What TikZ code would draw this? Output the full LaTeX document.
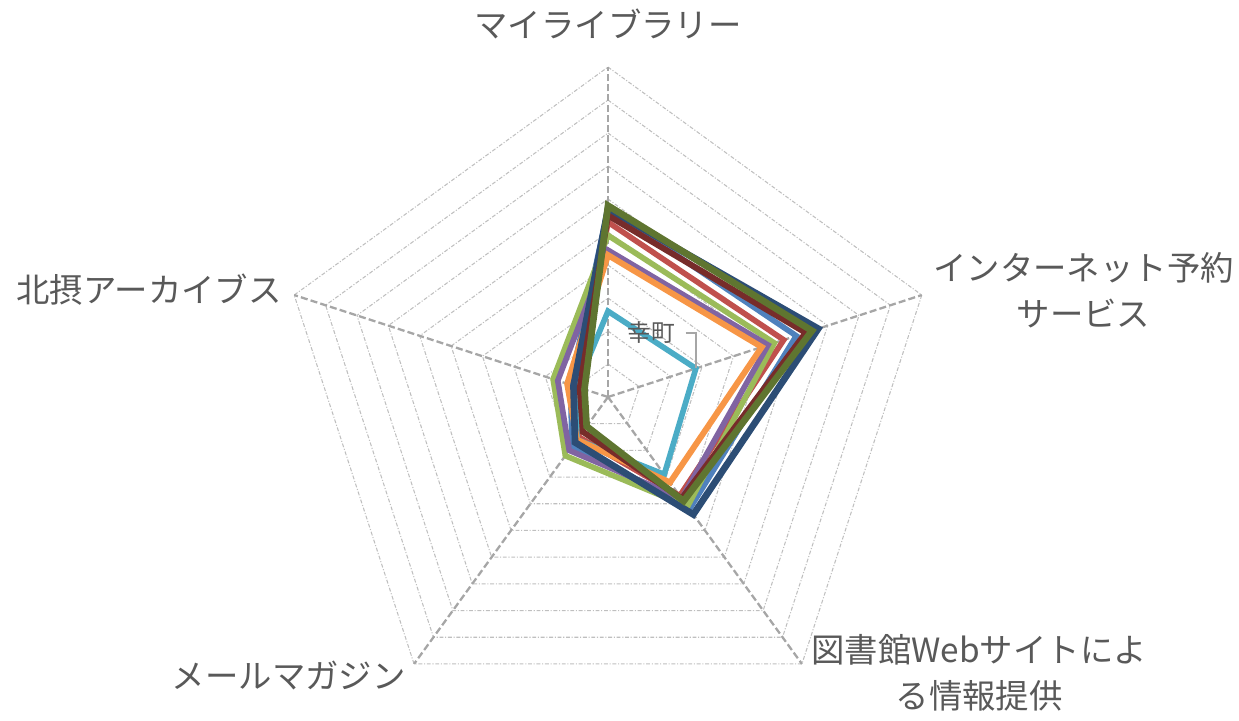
\documentclass[tikz,border=0pt]{standalone}
\usepackage{fontspec}
\setmainfont{Noto Sans CJK JP}
\usetikzlibrary{positioning}

\definecolor{txtgray}{HTML}{595959}
\definecolor{gridgray}{HTML}{BFBFBF}
\definecolor{axisgray}{HTML}{A6A6A6}
\definecolor{sblue}{HTML}{4F81BD}
\definecolor{sred}{HTML}{C0504D}
\definecolor{sgreen}{HTML}{9BBB59}
\definecolor{spurple}{HTML}{8064A2}
\definecolor{saqua}{HTML}{4BACC6}
\definecolor{sorange}{HTML}{F79646}
\definecolor{sdarkblue}{HTML}{2C4D75}
\definecolor{sdarkred}{HTML}{772C2A}
\definecolor{solive}{HTML}{5F7530}

\begin{document}
\begin{tikzpicture}[
    x=0.02cm, y=0.02cm,
    % 格子線と軸
    gridline/.style={gridgray, line width=0.6pt, dash pattern=on 2.2pt off 1pt on 0.6pt off 1pt},
    axisline/.style={axisgray, line width=1.3pt, dash pattern=on 4pt off 1.8pt},
    series/.style={line width=3.2pt},
    axislabel/.style={text=txtgray, font=\fontsize{19}{26}\selectfont, align=center, inner sep=0pt},
    leader/.style={axisgray, line width=0.9pt}
]

\useasboundingbox (-608,-323) rectangle (631,397);

\begin{scope}[x=0.66cm, y=0.66cm]
% --- 1. 格子 (10 段) ---
\foreach \r in {1,...,10}
  \draw[gridline] (90:\r) -- (18:\r) -- (-54:\r) -- (-126:\r) -- (162:\r) -- cycle;

% --- 2. 軸 ---
\foreach \a/\n in {90/1, 18/2, -54/3, -126/4, 162/5}
  \draw[axisline] (0,0) -- (\a:10) coordinate (ax\n);

% --- 3. 系列 ---
\foreach \col/\w/\va/\vb/\vc/\vd/\ve in {
    sblue/3.2/5.7/6.0/4.2/1.85/1.2,
    sred/3.2/5.3/5.6/3.7/1.5/0.95,
    sgreen/3.2/4.9/5.3/4.1/2.2/1.75,
    spurple/3.2/4.45/5.1/3.8/2.0/1.6,
    saqua/3.2/2.6/2.8/2.9/1.6/1.0,
    sorange/3.4/4.3/4.9/3.2/1.6/1.3,
    sdarkblue/3.8/5.7/6.7/4.4/1.7/1.1,
    sdarkred/3.4/5.5/6.3/3.8/1.3/0.9,
    solive/3.8/5.8/6.5/3.9/1.1/0.75}
  \draw[series, \col, line width=\w pt] (90:\va) -- (18:\vb) -- (-54:\vc) -- (-126:\vd) -- (162:\ve) -- cycle;

\coordinate (saiv) at (18:2.8);
\end{scope}

% --- 4. ラベル ---
\node[axislabel] (lib) at (0,373) {マイライブラリー};
\node[axislabel, anchor=west] (net) at (325,107) {インターネット予約\\サービス};
\node[axislabel, anchor=east] (arc) at (-326,107) {北摂アーカイブス};
\node[axislabel, anchor=east] (mag) at (-202,-278) {メールマガジン};
\node[axislabel, anchor=west] (web) at (203,-276) {図書館Webサイトによ\\る情報提供};

% 幸町 (引き出し線つき)
\node[text=txtgray, font=\fontsize{13.5}{16}\selectfont, inner sep=0pt] (sai) at (43,64) {幸町};
\draw[leader] ([xshift=6pt]sai.east) -| (saiv);

\end{tikzpicture}
\end{document}
